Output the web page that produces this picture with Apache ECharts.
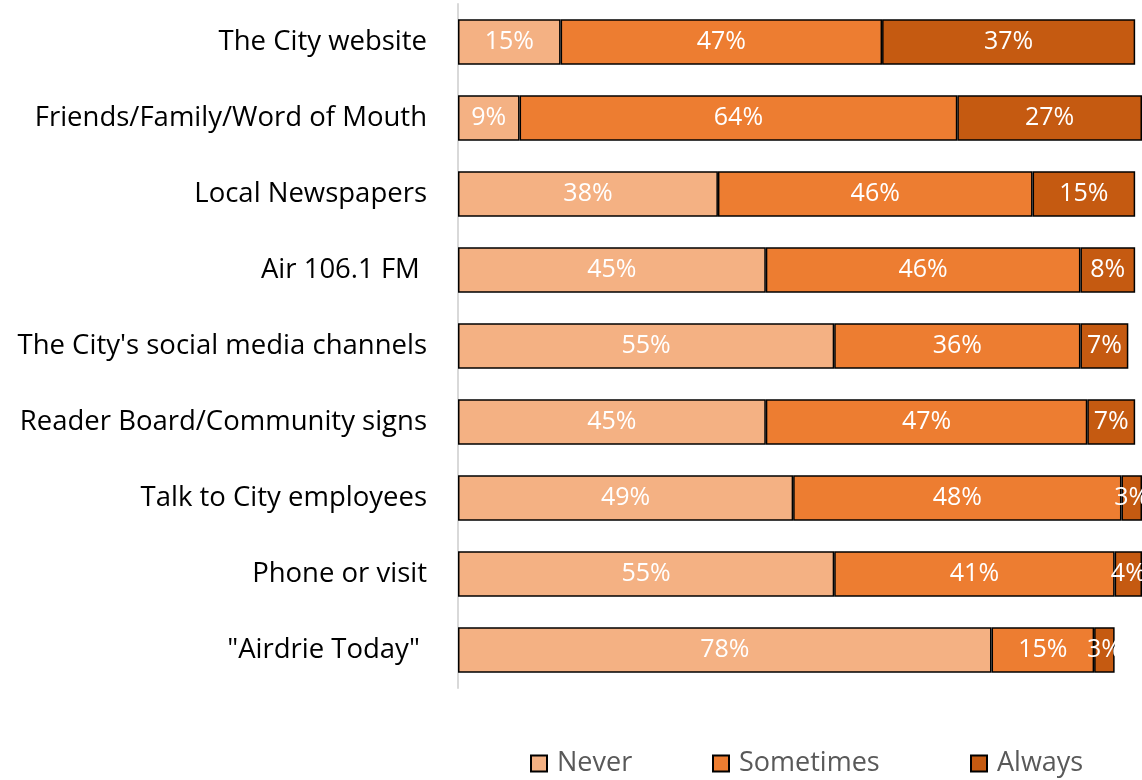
<!DOCTYPE html>
<html>
<head>
<meta charset="utf-8">
<script src="https://cdn.jsdelivr.net/npm/echarts@6/dist/echarts.min.js"></script>
<style>
  html, body { margin: 0; padding: 0; background: #ffffff; }
  #chart { width: 1142px; height: 780px; }
</style>
</head>
<body>
<div id="chart"></div>
<script>
// Information sources and how often respondents use them (percent)
const categories = [
  'The City website',
  'Friends/Family/Word of Mouth',
  'Local Newspapers',
  'Air 106.1 FM ',
  "The City's social media channels",
  'Reader Board/Community signs',
  'Talk to City employees',
  'Phone or visit',
  '"Airdrie Today" '
];
const never     = [15,  9, 38, 45, 55, 45, 49, 55, 78];
const sometimes = [47, 64, 46, 46, 36, 47, 48, 41, 15];
const always    = [37, 27, 15,  8,  7,  7,  3,  4,  3];

const seriesNames = ['Never', 'Sometimes', 'Always'];
const seriesColors = ['#F4B183', '#ED7D31', '#C55A11'];
const seriesData = [never, sometimes, always];
const legendLeft = [525, 707, 965];

const FONT = 'Open Sans';

const chart = echarts.init(document.getElementById('chart'), null, { renderer: 'canvas' });

chart.setOption({
  animation: false,
  backgroundColor: '#ffffff',
  grid: { left: 458, right: -2, top: 4, bottom: 92, containLabel: false },
  xAxis: {
    type: 'value', min: 0, max: 100,
    show: false
  },
  yAxis: {
    type: 'category',
    data: categories,
    inverse: true,
    axisLine: { show: true, lineStyle: { color: '#d9d9d9', width: 2 } },
    axisTick: { show: false },
    axisLabel: {
      color: '#000000', fontFamily: FONT, fontSize: 27.5, margin: 31,
      padding: [3, 0, 0, 0]
    }
  },
  legend: seriesNames.map((name, i) => ({
    left: legendLeft[i], top: 745,
    itemWidth: 16, itemHeight: 16,
    icon: 'rect',
    textStyle: { color: '#595959', fontFamily: FONT, fontSize: 27, padding: [0, 0, 0, 5] },
    data: [name]
  })),
  series: seriesNames.map((name, i) => ({
    name: name,
    type: 'bar',
    stack: 'total',
    barCategoryGap: '40%',
    data: seriesData[i],
    itemStyle: { color: seriesColors[i], borderColor: '#000000', borderWidth: 1.5 },
    label: {
      show: true, position: 'inside',
      color: '#ffffff', fontFamily: FONT, fontSize: 25,
      padding: [3, 0, 0, 0],
      formatter: p => p.value + '%'
    }
  }))
});
</script>
</body>
</html>
